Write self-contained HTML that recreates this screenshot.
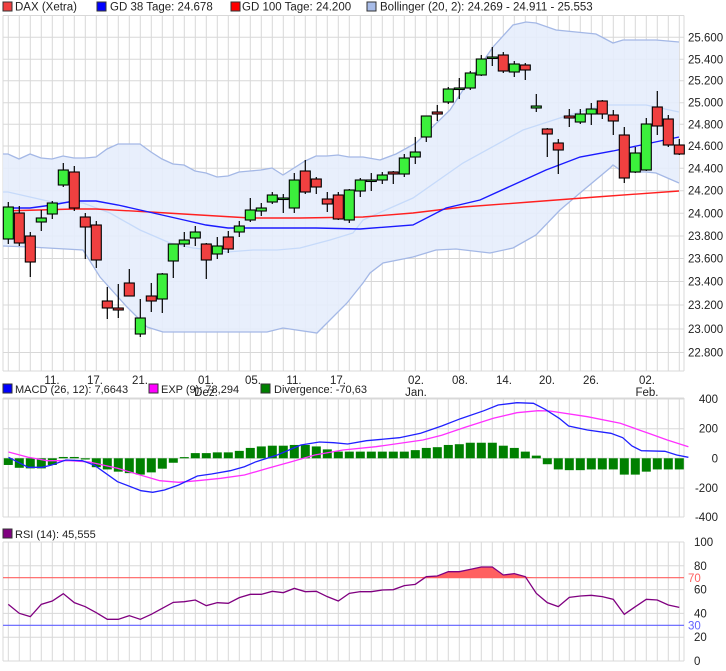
<!DOCTYPE html>
<html><head><meta charset="utf-8"><style>
html,body{margin:0;padding:0;background:#fff;}
svg{display:block;font-family:"Liberation Sans",sans-serif;font-size:11px;}
</style></head><body>
<svg id="s" width="726" height="671" xmlns="http://www.w3.org/2000/svg">
<g id="grid"></g><g id="main"></g>
<g font-size="11.5" fill="#222">
<rect x="3" y="2" width="9" height="9" fill="#f04040" stroke="#333"/><text x="15" y="10.5">DAX (Xetra)</text>
<rect x="97" y="2" width="9" height="9" fill="#0000ff" stroke="#333"/><text x="110" y="10.5">GD 38 Tage: 24.678</text>
<rect x="231" y="2" width="9" height="9" fill="#ff0000" stroke="#333"/><text x="242" y="10.5">GD 100 Tage: 24.200</text>
<rect x="367" y="2" width="9" height="9" fill="#a8bce8" stroke="#333"/><text x="380" y="10.5">Bollinger (20, 2): 24.269 - 24.911 - 25.553</text>
</g>
<g font-size="11.5" fill="#222" text-anchor="middle">
<text x="52" y="384">11.</text><text x="95" y="384">17.</text><text x="140" y="384">21.</text>
<text x="206" y="384">01.</text><text x="206" y="396">Dez.</text>
<text x="253" y="384">05.</text><text x="294" y="384">11.</text><text x="338" y="384">17.</text>
<text x="416" y="384">02.</text><text x="416" y="396">Jan.</text>
<text x="460" y="384">08.</text><text x="504" y="384">14.</text><text x="547" y="384">20.</text>
<text x="591" y="384">26.</text><text x="647" y="384">02.</text><text x="647" y="396">Feb.</text>
</g>
<g font-size="11" fill="#222">
<rect x="3" y="384" width="9" height="9" fill="#0000ff" stroke="#333"/><text x="15" y="393">MACD (26, 12): 7,6643</text>
<rect x="149" y="384" width="9" height="9" fill="#ff00ff" stroke="#333"/><text x="161" y="393">EXP (9): 78,294</text>
<rect x="261" y="384" width="9" height="9" fill="#008000" stroke="#333"/><text x="274" y="393">Divergence: -70,63</text>
<rect x="3" y="529" width="9" height="9" fill="#800080" stroke="#333"/><text x="15" y="538">RSI (14): 45,555</text>
</g>
<g id="axis" font-size="11.5" fill="#222"></g>
</svg>
<script>
var NS="http://www.w3.org/2000/svg";
function el(p,t,a){var e=document.createElementNS(NS,t);for(var k in a)e.setAttribute(k,a[k]);document.getElementById(p).appendChild(e);return e;}
function txt(t,x,y,fill,anchor){var e=el('axis','text',{x:x,y:y,fill:fill||'#222'});if(anchor)e.setAttribute('text-anchor',anchor);e.textContent=t;}
var L=3,R=684;
function X(i){return 8.3+11*i;}
var gc='#d8d8d8';
// panels
function panel(t,b,hs){
  for(var i=0;i<62;i++)el('grid','line',{x1:X(i),x2:X(i),y1:t,y2:b,stroke:gc});
  el('grid','line',{x1:L,x2:L,y1:t,y2:b,stroke:gc});el('grid','line',{x1:R,x2:R,y1:t,y2:b,stroke:gc});
  el('grid','line',{x1:L,x2:R,y1:t,y2:t,stroke:gc});el('grid','line',{x1:L,x2:R,y1:b,y2:b,stroke:gc});
  hs.forEach(function(y){el('grid','line',{x1:L,x2:R,y1:y,y2:y,stroke:gc});});
}
var mg=[37.3,59.3,80.7,102.7,124.3,146,168.3,190.7,213.3,236,258.5,281.5,305,329,352.5];
panel(15.5,371,mg);
var lab=['25.600','25.400','25.200','25.000','24.800','24.600','24.400','24.200','24.000','23.800','23.600','23.400','23.200','23.000','22.800'];
mg.forEach(function(y,k){txt(lab[k],688,y+4);});
panel(398,517,[399,428.7,458.3,488,517]);
[['400',399],['200',428.7],['0',458.3],['-200',488],['-400',517]].forEach(function(a){txt(a[0],718,a[1]+4,'#222','end');});
var rg=[542,565.8,589.6,613.4,637.2,661];
panel(542,661,rg);
[['100',542],['80',565.8],['60',589.6],['40',613.4],['20',637.2],['0',661]].forEach(function(a){txt(a[0],694,a[1]+4);});
txt('70',688,582,'#ff6060');txt('30',688,629.5,'#6060ff');
// bollinger
var up=[[3,154],[8,154],[19,159],[30,154],[41,158],[52,159],[63,156],[74,158],[85,158],[96,157],[107,149],[118,144],[140,144],[151,152],[162,159],[173,164],[184,165],[195,171],[206,173],[217,177],[228,176],[239,172],[250,171],[261,170],[272,168],[283,175],[294,168],[305,161],[316,156],[327,156],[338,155],[349,157],[363,157],[380,160],[396,154],[416,143],[450,110],[463,90],[493,47],[513,25],[526,22],[536,23],[556,30],[596,34],[613,43],[623,40],[656,40],[679,42]];
var lo=[[3,246],[30,247],[83,250],[100,277],[127,307],[147,327],[163,332],[267,332],[283,328],[317,333],[347,303],[363,283],[370,273],[383,263],[413,257],[436,250],[456,249],[490,253],[513,248],[536,235],[560,210],[580,193],[610,168],[613,165],[623,172],[646,172],[656,173],[679,183]];
var mid=[[3,192],[8,192],[52,202],[83,203],[110,213],[140,230],[170,243],[193,248],[227,252],[253,250],[277,250],[300,248],[330,240],[353,233],[363,220],[413,198],[463,163],[523,130],[563,117],[603,105],[646,105],[679,112]];
function pts(a){return a.map(function(p){return p[0]+','+p[1];}).join(' ');}
el('main','polygon',{points:pts(up)+' '+pts(lo.slice().reverse()),fill:'#e6edfc','fill-opacity':'0.9'});
el('main','polyline',{points:pts(up),fill:'none',stroke:'#a4b8e6','stroke-width':1.3});
el('main','polyline',{points:pts(lo),fill:'none',stroke:'#a4b8e6','stroke-width':1.3});
el('main','polyline',{points:pts(mid),fill:'none',stroke:'#c6dafa','stroke-width':1.3});
var gd100=[[3,211],[74,209],[96,209],[150,212],[200,215],[250,218],[300,218],[363,217],[413,213],[463,207],[530,202],[596,197],[679,191]];
var gd38=[[3,208],[30,208],[52,205],[74,201],[96,201],[118,205],[140,210],[162,215],[184,220],[206,225],[228,228],[272,228],[316,228],[360,229],[413,225],[446,208],[480,200],[513,185],[546,170],[580,157],[613,151],[646,144],[679,137]];
el('main','polyline',{points:pts(gd100),fill:'none',stroke:'#ff2020','stroke-width':1.4});
el('main','polyline',{points:pts(gd38),fill:'none',stroke:'#1a1aff','stroke-width':1.4});
// candles: [bodyTop,bodyBot,wickTop,wickBot,green]
var C=[[207,239,202,244,1],[213,243,206,246,0],[236,262,232,277,0],[218,222,210,231,1],[203,214,201,219,1],[170,185,163,187,1],[172,208,166,211,0],[217,227,213,259,0],[225,260,221,268,0],[301,308,287,319,0],
[308,310,284,318,0],[283,296,269,296,0],[318,334,299,337,1],[296,301,283,312,0],[274,299,273,313,1],[244,261,244,278,1],[240,244,232,247,1],[232,238,226,246,1],[244,260,243,279,0],[246,254,237,259,1],
[237,249,231,253,0],[226,232,221,237,1],[210,220,198,222,1],[208,211,203,216,1],[195,202,192,204,1],[198,198,194,213,1],[180,208,173,213,1],[171,192,160,194,0],[179,187,177,194,0],[199,204,192,212,0],
[195,219,192,220,0],[190,220,189,223,1],[180,191,178,197,1],[180,180,173,191,1],[175,180,172,184,1],[172,174,171,184,0],[158,174,154,177,1],[152,157,137,164,1],[116,137,116,142,1],[112,114,105,121,0],
[89,102,87,104,1],[88,88,78,99,1],[73,88,71,90,1],[59,75,55,76,1],[57,58,47,66,1],[55,71,52,73,0],[64,72,61,77,1],[65,70,63,80,0],[106,108,94,112,1],[129,134,128,157,0],
[143,150,139,174,0],[116,118,109,127,0],[114,122,109,124,1],[109,114,103,125,1],[101,114,100,119,0],[115,121,110,135,0],[135,178,127,183,0],[153,172,147,173,1],[124,170,118,171,1],[107,126,91,135,0],
[119,145,115,147,0],[145,154,139,155,0]];
C.forEach(function(c,i){var x=X(i);
 el('main','line',{x1:x,x2:x,y1:c[2],y2:c[3],stroke:'#000','stroke-width':1.2});
 var h=Math.max(c[1]-c[0],1.5);
 el('main','rect',{x:x-5,y:c[0],width:10,height:h,fill:c[4]?'#3cf03c':'#f04040',stroke:'#000','stroke-width':1.1});
});
// MACD
function MY(v){return 458.3-v*0.1483;}
var D=[-45,-64,-68,-68,-45,9,9,-8,-60,-75,-90,-100,-110,-95,-70,-30,8,35,35,40,40,50,70,80,85,85,90,90,80,60,45,45,45,45,45,45,45,55,70,75,90,95,105,105,105,85,70,45,18,-40,-75,-80,-80,-75,-75,-75,-110,-110,-90,-75,-75,-75];
D.forEach(function(v,i){var y0=MY(0),y1=MY(v);el('main','rect',{x:X(i)-4.5,y:Math.min(y0,y1),width:9,height:Math.abs(y1-y0),fill:'#008000'});});
function zc(a){return a.map(function(p){return (p[0]/2.128).toFixed(1)+','+(370+p[1]/3).toFixed(1);}).join(' ');}
var sig=[[18,246],[60,262],[100,272],[150,272],[190,276],[250,295],[300,316],[340,332],[380,337],[420,332],[470,325],[520,315],[570,295],[620,275],[670,255],[730,240],[800,230],[900,210],[940,196],[990,172],[1050,145],[1100,128],[1145,122],[1170,123],[1250,140],[1320,160],[1380,190],[1420,210],[1465,230]];
var mac=[[18,262],[60,292],[90,292],[110,285],[140,270],[175,272],[200,285],[250,335],[300,362],[325,367],[350,360],[380,345],[420,318],[450,312],[490,302],[520,290],[545,275],[590,255],[640,225],[680,216],[710,218],[740,222],[780,212],[850,203],[895,190],[940,168],[980,146],[1030,122],[1060,105],[1100,98],[1135,100],[1160,118],[1190,145],[1210,168],[1250,180],[1300,190],[1325,203],[1345,228],[1365,242],[1415,244],[1440,255],[1465,262]];
el('main','polyline',{points:zc(sig),fill:'none',stroke:'#ff30ff','stroke-width':1.3});
el('main','polyline',{points:zc(mac),fill:'none',stroke:'#2020ff','stroke-width':1.3});
// RSI
var rsi=[238,265,275,238,228,206,233,245,263,283,283,272,283,268,250,232,230,225,242,233,235,218,208,208,199,203,190,200,199,215,228,205,200,200,195,194,182,178,155,153,140,140,133,126,126,150,146,155,205,233,245,217,213,211,215,223,268,245,223,225,240,247];
var rp=rsi.map(function(v,i){return [X(i),525+v/3];});
var y70=661-70*1.19,y30=661-30*1.19;
// fill above 70 (indices 37..47 approx)
var f=[];for(var i=37;i<=48;i++){var p=rp[i];f.push([p[0],Math.min(p[1],y70)]);}
el('main','polygon',{points:pts(f)+' '+f[f.length-1][0]+','+y70+' '+f[0][0]+','+y70,fill:'#ff6060'});
el('main','line',{x1:L,x2:R,y1:y70,y2:y70,stroke:'#ff6060','stroke-width':1.2});
el('main','line',{x1:L,x2:R,y1:y30,y2:y30,stroke:'#6060ff','stroke-width':1.2});
el('main','polyline',{points:pts(rp),fill:'none',stroke:'#800080','stroke-width':1.3});
</script>
</body></html>
